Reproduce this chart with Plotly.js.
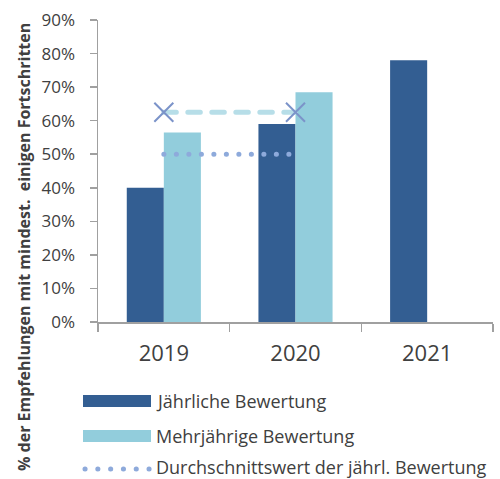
<!DOCTYPE html>
<html>
<head>
<meta charset="utf-8">
<script src="https://cdn.plot.ly/plotly-3.0.1.min.js"></script>
<style>
  html, body { margin: 0; padding: 0; background: #fff; }
  #chart { width: 500px; height: 479px; }
  .js-line, .shapelayer path { stroke-linecap: round; }
</style>
</head>
<body>
<div id="chart"></div>
<script>
// ---- data ----
const years = ['2019', '2020', '2021'];
const annualValues = [40, 59, 78];
const multiYearValues = [56.5, 68.5, null];
const annualAvgYears = ['2019', '2020'];
const annualAvgValues = [50, 50];
const multiAvgYears = ['2019', '2020'];
const multiAvgValues = [62.5, 62.5];
const yTicks = [0, 10, 20, 30, 40, 50, 60, 70, 80, 90];
const yTickLabels = ['0%', '10%', '20%', '30%', '40%', '50%', '60%', '70%', '80%', '90%'];
const legendLabels = ['Jährliche Bewertung', 'Mehrjährige Bewertung', 'Durchschnittswert der jährl. Bewertung'];
const yTitle = '% der Empfehlungen mit mindest.  einigen Fortschritten';

// ---- style ----
const DARK = '#335e92';
const LIGHT = '#92cddc';
const DOT = '#8eaadb';
const DASH = '#b7dee8';
const XMARK = '#7b93c9';
const AXIS = '#a0a0a0';
const TEXT = '#404040';
const FONT = '"Open Sans", "Noto Sans", sans-serif';

const W = 500, H = 479;
const M = { l: 98, r: 7, t: 20, b: 157 };
const PW = W - M.l - M.r, PH = H - M.t - M.b;
const px = x => (x - M.l) / PW;
const py = y => (H - M.b - y) / PH;

const traces = [
  { type: 'bar', x: years, y: annualValues, name: legendLabels[0], marker: { color: DARK }, hoverinfo: 'skip' },
  { type: 'bar', x: years, y: multiYearValues, name: legendLabels[1], marker: { color: LIGHT }, hoverinfo: 'skip' },
  { type: 'scatter', mode: 'lines', x: annualAvgYears, y: annualAvgValues, name: legendLabels[2],
    line: { color: DOT, width: 5, dash: '0.1px,12.4px' }, hoverinfo: 'skip' },
  { type: 'scatter', mode: 'lines+markers', x: multiAvgYears, y: multiAvgValues, name: 'Durchschnitt mehrj.',
    line: { color: DASH, width: 5, dash: '12.5px,11.5px' },
    marker: { symbol: 'x-thin', size: 19, color: XMARK, line: { color: XMARK, width: 2 } }, hoverinfo: 'skip' }
];

const legendRows = [401, 436, 469];
const legendTextRows = [401, 436, 467];
const shapes = [
  { type: 'rect', xref: 'paper', yref: 'paper', x0: px(83), x1: px(151), y0: py(legendRows[0] + 6), y1: py(legendRows[0] - 6),
    fillcolor: DARK, line: { width: 0 } },
  { type: 'rect', xref: 'paper', yref: 'paper', x0: px(83), x1: px(151), y0: py(legendRows[1] + 6), y1: py(legendRows[1] - 6),
    fillcolor: LIGHT, line: { width: 0 } },
  { type: 'line', xref: 'paper', yref: 'paper', x0: px(85), x1: px(150), y0: py(legendRows[2]), y1: py(legendRows[2]),
    line: { color: DOT, width: 5, dash: '0.1px,12.7px' } }
];

const annotations = legendLabels.map((t, i) => ({
  text: t, xref: 'paper', yref: 'paper', x: px(155), y: py(legendTextRows[i]),
  xanchor: 'left', yanchor: 'middle', showarrow: false, borderpad: 0,
  font: { family: FONT, size: 18, color: TEXT }
}));
annotations.push({
  text: '<b>' + yTitle + '</b>', xref: 'paper', yref: 'paper', x: px(24), y: py(247),
  xanchor: 'center', yanchor: 'middle', textangle: -90, showarrow: false,
  font: { family: FONT, size: 16, color: TEXT }
});

const layout = {
  width: W, height: H,
  margin: M,
  paper_bgcolor: '#fff', plot_bgcolor: '#fff',
  showlegend: false,
  barmode: 'group', bargap: 0.437, bargroupgap: 0,
  font: { family: FONT, color: TEXT },
  xaxis: {
    type: 'category', showline: true, linecolor: AXIS, linewidth: 1.5,
    ticks: 'outside', tickson: 'boundaries', ticklen: 8, tickcolor: AXIS, tickwidth: 1.5,
    tickfont: { family: FONT, size: 22, color: TEXT }, ticklabelstandoff: 11,
    showgrid: false, zeroline: false, fixedrange: true
  },
  yaxis: {
    range: [0, 90], tickmode: 'array', tickvals: yTicks, ticktext: yTickLabels,
    showline: true, linecolor: AXIS, linewidth: 1.5,
    ticks: 'outside', ticklen: 7, tickcolor: AXIS, tickwidth: 1.5,
    tickfont: { family: FONT, size: 17, color: TEXT }, ticklabelstandoff: 11,
    showgrid: false, zeroline: false, fixedrange: true
  },
  shapes: shapes,
  annotations: annotations
};

Plotly.newPlot('chart', traces, layout, { displayModeBar: false, staticPlot: true });
</script>
</body>
</html>
